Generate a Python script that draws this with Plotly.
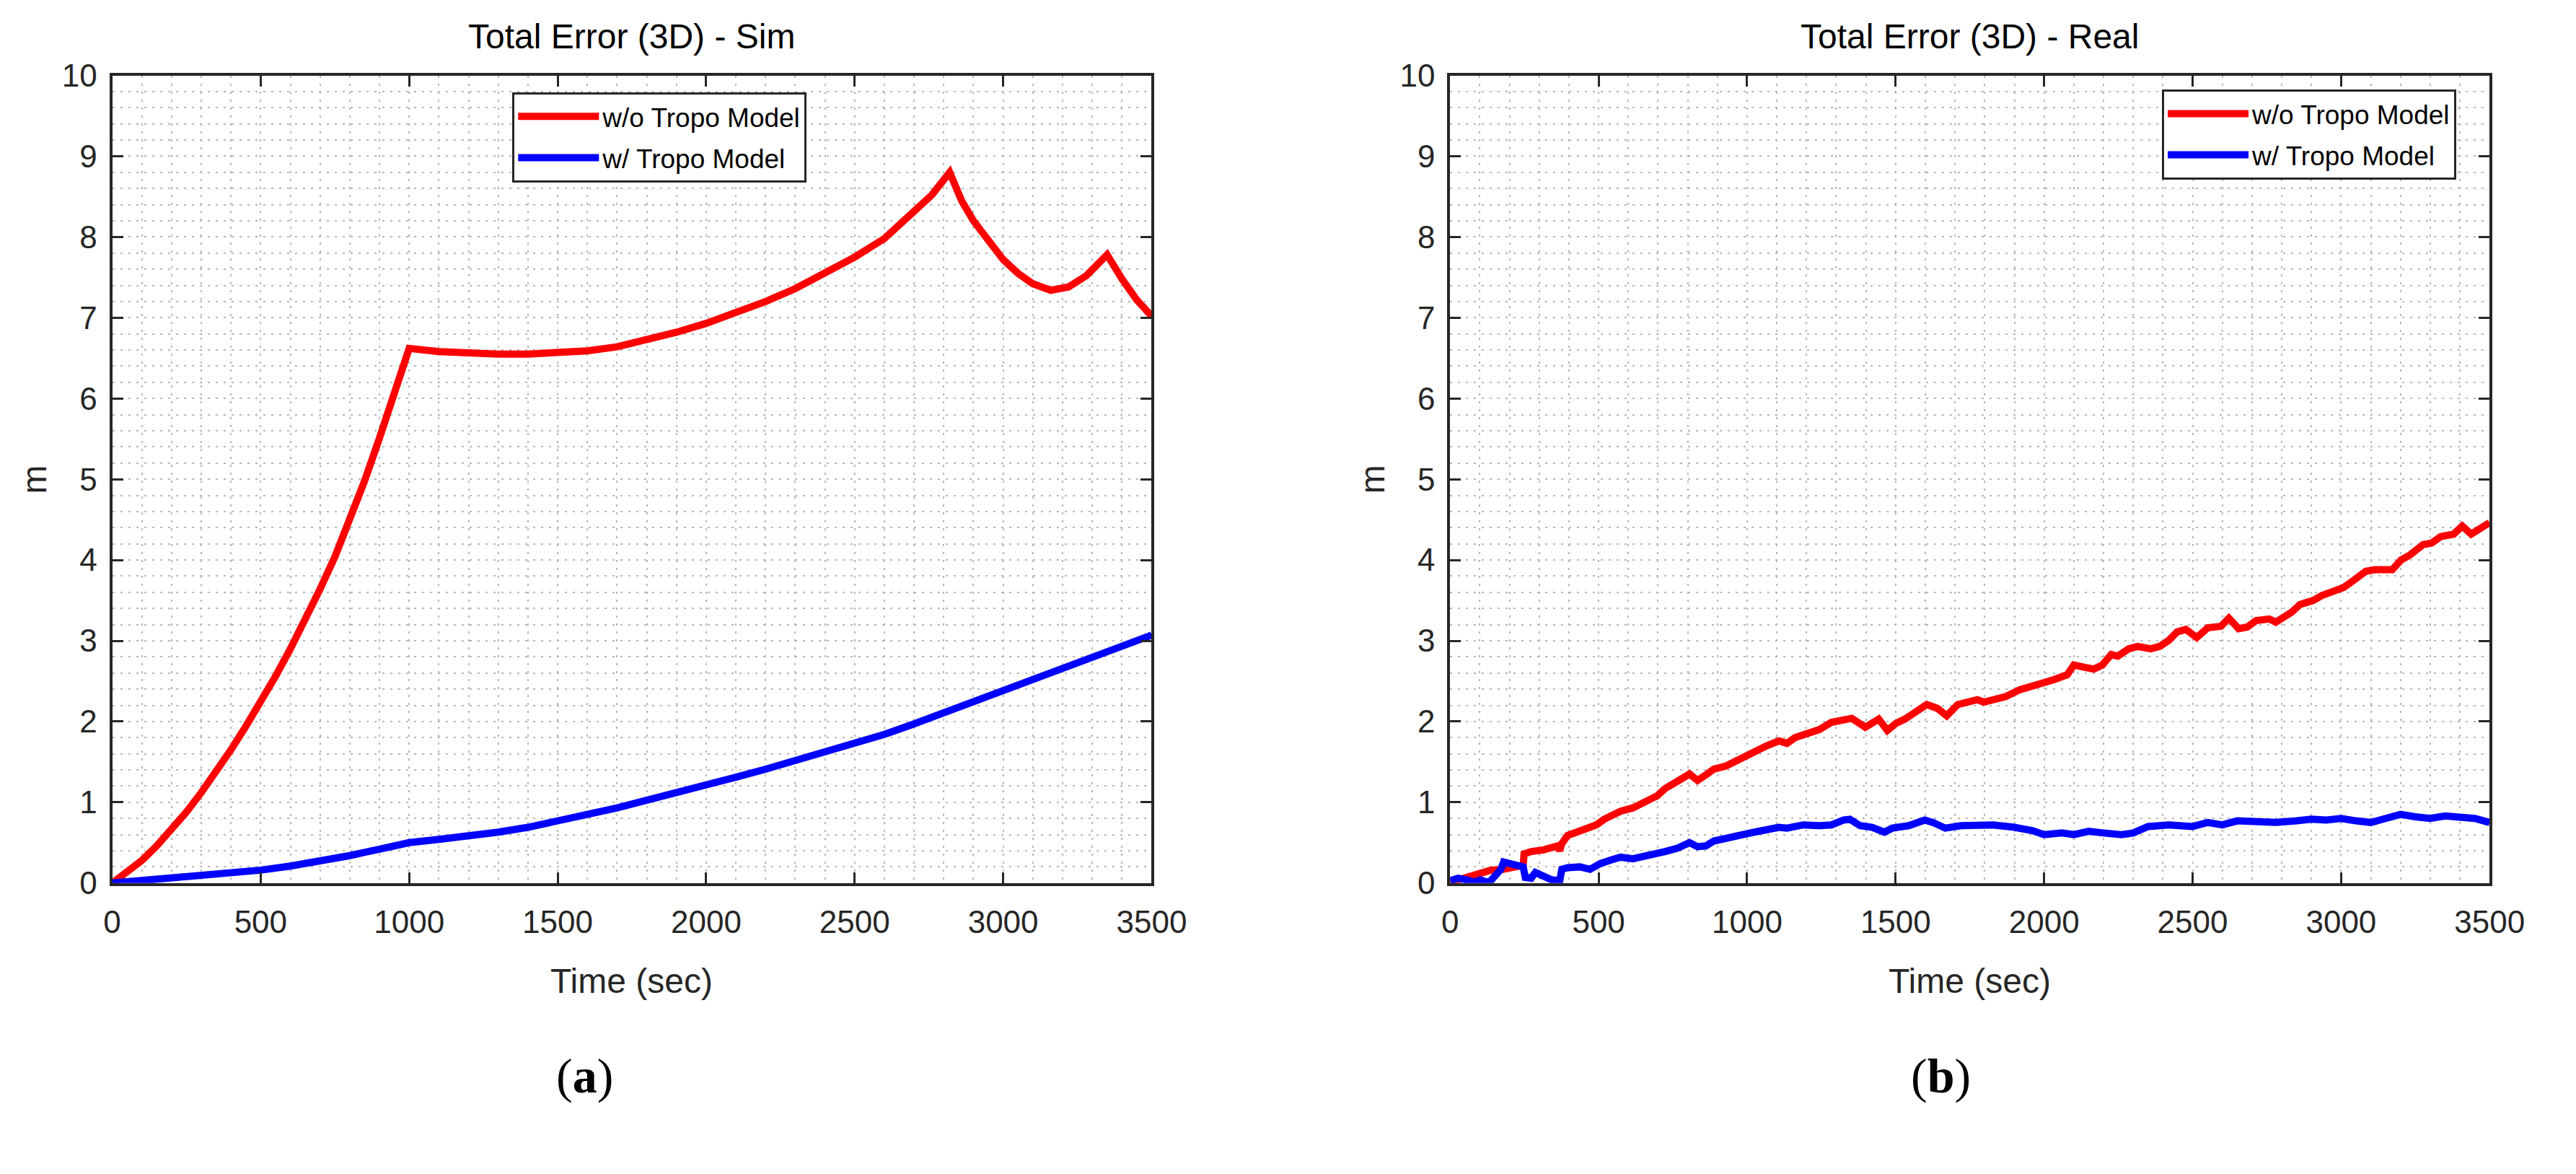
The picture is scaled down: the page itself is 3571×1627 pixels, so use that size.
import plotly.graph_objects as go

# ---------------- data ----------------
sim_t_red = [0, 50, 100, 150, 200, 250, 300, 350, 400, 450, 500, 550, 600, 650, 700, 750, 800,
             850, 900, 950, 1000, 1100, 1200, 1300, 1400, 1500, 1600, 1700, 1800, 1900, 2000,
             2100, 2200, 2300, 2400, 2500, 2600, 2700, 2760, 2820, 2860, 2900, 2950, 3000,
             3050, 3100, 3160, 3220, 3280, 3350, 3400, 3450, 3500]
sim_red = [0.0, 0.13, 0.28, 0.46, 0.66, 0.88, 1.12, 1.38, 1.65, 1.94, 2.24, 2.56, 2.9, 3.26,
           3.64, 4.04, 4.49, 4.98, 5.51, 6.06, 6.62, 6.58, 6.56, 6.55, 6.55, 6.56, 6.59, 6.64,
           6.72, 6.82, 6.93, 7.06, 7.2, 7.36, 7.55, 7.75, 7.98, 8.3, 8.52, 8.8, 8.45, 8.2,
           7.95, 7.72, 7.55, 7.42, 7.34, 7.38, 7.52, 7.78, 7.48, 7.22, 7.02]

sim_t_blue = [0, 100, 200, 300, 400, 500, 600, 700, 800, 900, 1000, 1100, 1200, 1300, 1400,
              1500, 1600, 1700, 1800, 1900, 2000, 2100, 2200, 2300, 2400, 2500, 2600, 2700,
              2800, 2900, 3000, 3100, 3200, 3300, 3400, 3500]
sim_blue = [0.0, 0.03, 0.06, 0.09, 0.12, 0.16, 0.21, 0.27, 0.34, 0.42, 0.5, 0.54, 0.58, 0.63, 0.69,
            0.76, 0.85, 0.93, 1.02, 1.11, 1.21, 1.31, 1.41, 1.52, 1.62, 1.72, 1.84, 1.97,
            2.11, 2.24, 2.38, 2.52, 2.66, 2.8, 2.94, 3.07]

real_t_red = [0, 41, 82, 109, 137, 178, 219, 246, 249, 273, 314, 342, 362, 369, 376, 396, 423,
              464, 492, 519, 546, 574, 615, 642, 669, 697, 724, 751, 779, 806, 833, 861, 888,
              929, 970, 997, 1038, 1066, 1107, 1134, 1161, 1189, 1243, 1284, 1325, 1352, 1398,
              1443, 1472, 1502, 1531, 1561, 1605, 1642, 1672, 1709, 1738, 1775, 1797, 1842,
              1871, 1916, 1945, 1975, 2004, 2034, 2078, 2100, 2137, 2167, 2196, 2226, 2248,
              2285, 2315, 2359, 2389, 2418, 2448, 2477, 2514, 2551, 2596, 2622, 2655, 2684,
              2714, 2758, 2780, 2832, 2862, 2906, 2935, 2980, 3009, 3039, 3083, 3113, 3150,
              3172, 3202, 3231, 3276, 3305, 3335, 3379, 3408, 3438, 3490, 3500]
real_red = [0.01, 0.06, 0.10, 0.14, 0.16, 0.17, 0.19, 0.22, 0.36, 0.39, 0.41, 0.43, 0.46, 0.40,
            0.49, 0.59, 0.62, 0.68, 0.72, 0.79, 0.85, 0.89, 0.93, 0.98, 1.02, 1.08, 1.17, 1.24,
            1.29, 1.35, 1.27, 1.34, 1.41, 1.45, 1.53, 1.57, 1.66, 1.70, 1.76, 1.73, 1.80, 1.83,
            1.90, 1.99, 2.03, 2.04, 1.93, 2.03, 1.89, 1.98, 2.03, 2.11, 2.21, 2.16, 2.07, 2.21,
            2.24, 2.27, 2.24, 2.27, 2.31, 2.39, 2.42, 2.45, 2.47, 2.52, 2.58, 2.70, 2.67, 2.65,
            2.70, 2.83, 2.81, 2.90, 2.93, 2.90, 2.93, 3.00, 3.11, 3.14, 3.04, 3.16, 3.18, 3.28,
            3.15, 3.17, 3.25, 3.27, 3.23, 3.35, 3.45, 3.50, 3.56, 3.61, 3.66, 3.74, 3.86, 3.88,
            3.89, 3.88, 4.00, 4.06, 4.19, 4.21, 4.29, 4.32, 4.42, 4.32, 4.44, 4.46]

real_t_blue = [0, 27, 55, 82, 102, 123, 137, 157, 171, 180, 198, 219, 239, 246, 253, 273, 287,
               314, 342, 369, 376, 396, 437, 471, 505, 546, 574, 615, 642, 697, 724, 765, 792,
               806, 833, 861, 888, 929, 970, 1011, 1052, 1079, 1107, 1134, 1161, 1189, 1243,
               1284, 1325, 1346, 1380, 1421, 1462, 1489, 1544, 1598, 1626, 1667, 1721, 1828,
               1900, 1960, 2000, 2060, 2100, 2150, 2200, 2260, 2300, 2350, 2420, 2500, 2550,
               2600, 2650, 2700, 2780, 2850, 2900, 2950, 3000, 3050, 3100, 3150, 3200, 3250,
               3300, 3350, 3400, 3450, 3500]
real_blue = [0.03, 0.06, 0.04, 0.01, 0.04, 0.01, 0.03, 0.10, 0.17, 0.26, 0.24, 0.22, 0.20, 0.20,
             0.07, 0.06, 0.13, 0.09, 0.04, 0.03, 0.17, 0.19, 0.20, 0.17, 0.24, 0.29, 0.32, 0.30,
             0.32, 0.35, 0.39, 0.43, 0.49, 0.50, 0.45, 0.46, 0.52, 0.56, 0.59, 0.62, 0.65, 0.68,
             0.69, 0.68, 0.71, 0.72, 0.71, 0.72, 0.78, 0.79, 0.71, 0.69, 0.63, 0.68, 0.71, 0.78,
             0.75, 0.68, 0.71, 0.72, 0.69, 0.65, 0.60, 0.62, 0.60, 0.64, 0.62, 0.60, 0.62, 0.70,
             0.72, 0.70, 0.75, 0.72, 0.77, 0.76, 0.75, 0.77, 0.79, 0.78, 0.80, 0.77, 0.75, 0.80,
             0.85, 0.82, 0.80, 0.83, 0.82, 0.80, 0.75]

series_names = ["w/o Tropo Model", "w/ Tropo Model"]
titles = ["Total Error (3D) - Sim", "Total Error (3D) - Real"]
x_label = "Time (sec)"
y_label = "m"
panel_labels = ["(<b>a</b>)", "(<b>b</b>)"]

# ---------------- figure ----------------
W, H = 3571, 1627
FONT = "Liberation Sans, Arial, Helvetica, sans-serif"
AX = "#262626"
GRID = "#b6b6b6"
RED = "#ff0000"
BLUE = "#0000ff"
LW = 10

px = lambda v: v / W
py = lambda v: 1 - v / H

xdom1 = [px(146), px(1612)]
xdom2 = [px(2033), px(3499)]
ydom = [py(1236), py(82)]

fig = go.Figure()
fig.add_trace(go.Scatter(x=sim_t_red, y=sim_red, mode="lines", name=series_names[0],
                         line=dict(color=RED, width=LW), xaxis="x", yaxis="y",
                         legend="legend", legendgroup="a1"))
fig.add_trace(go.Scatter(x=sim_t_blue, y=sim_blue, mode="lines", name=series_names[1],
                         line=dict(color=BLUE, width=LW), xaxis="x", yaxis="y",
                         legend="legend", legendgroup="a2"))
fig.add_trace(go.Scatter(x=real_t_red, y=real_red, mode="lines", name=series_names[0],
                         line=dict(color=RED, width=LW), xaxis="x2", yaxis="y2",
                         legend="legend2", legendgroup="b1"))
fig.add_trace(go.Scatter(x=real_t_blue, y=real_blue, mode="lines", name=series_names[1],
                         line=dict(color=BLUE, width=LW), xaxis="x2", yaxis="y2",
                         legend="legend2", legendgroup="b2"))

def xaxis(dom, anchor):
    return dict(domain=dom, anchor=anchor, range=[0, 3500], dtick=500, tick0=0,
                showline=True, linecolor=AX, linewidth=4, mirror="ticks",
                ticks="inside", ticklen=15, tickwidth=3, tickcolor=AX,
                tickfont=dict(family=FONT, size=44, color=AX), ticklabelstandoff=12,
                showgrid=True, gridcolor=GRID, gridwidth=2, griddash="3px,8px",
                minor=dict(dtick=100, showgrid=True, gridcolor=GRID, gridwidth=2,
                           griddash="3px,8px", ticks=""),
                zeroline=False, fixedrange=True)

def yaxis(anchor):
    return dict(domain=ydom, anchor=anchor, range=[0, 10], dtick=1, tick0=0,
                showline=True, linecolor=AX, linewidth=4, mirror="ticks",
                ticks="inside", ticklen=15, tickwidth=3, tickcolor=AX,
                tickfont=dict(family=FONT, size=44, color=AX), ticklabelstandoff=8,
                showgrid=True, gridcolor=GRID, gridwidth=2, griddash="3px,8px",
                minor=dict(dtick=0.2, showgrid=True, gridcolor=GRID, gridwidth=2,
                           griddash="3px,8px", ticks=""),
                zeroline=False, fixedrange=True)

legend_common = dict(font=dict(family=FONT, size=37, color="#000000"), bgcolor="#ffffff",
                     bordercolor=AX, borderwidth=3, itemwidth=112, traceorder="grouped",
                     yanchor="top", xref="paper", yref="paper", tracegroupgap=6)

annotations = []
for i, xd in enumerate([xdom1, xdom2]):
    cx = (xd[0] + xd[1]) / 2
    annotations.append(dict(text=titles[i], x=cx, y=py(26), xref="paper", yref="paper",
                            showarrow=False, xanchor="center", yanchor="middle",
                            font=dict(family=FONT, size=48, color="#000000")))
    annotations.append(dict(text=x_label, x=cx, y=py(1376), xref="paper", yref="paper",
                            showarrow=False, xanchor="center", yanchor="middle",
                            font=dict(family=FONT, size=48, color=AX)))
    annotations.append(dict(text=y_label, x=xd[0] - px(110), y=(ydom[0] + ydom[1]) / 2,
                            xref="paper", yref="paper", showarrow=False, textangle=-90,
                            xanchor="center", yanchor="middle",
                            font=dict(family=FONT, size=48, color=AX)))
annotations.append(dict(text=panel_labels[0], x=px(812), y=py(1512), xref="paper", yref="paper",
                        showarrow=False, xanchor="center", yanchor="middle",
                        font=dict(family="Liberation Serif, Times New Roman, serif", size=68,
                                  color="#000000")))
annotations.append(dict(text=panel_labels[1], x=px(2725), y=py(1512), xref="paper", yref="paper",
                        showarrow=False, xanchor="center", yanchor="middle",
                        font=dict(family="Liberation Serif, Times New Roman, serif", size=68,
                                  color="#000000")))

fig.update_layout(
    width=W, height=H, autosize=False,
    margin=dict(l=0, r=0, t=0, b=0, pad=0),
    paper_bgcolor="#ffffff", plot_bgcolor="#ffffff",
    showlegend=True,
    xaxis=xaxis(xdom1, "y"), yaxis=yaxis("x"),
    xaxis2=xaxis(xdom2, "y2"), yaxis2=yaxis("x2"),
    legend=dict(x=px(918), xanchor="center", y=py(106), **legend_common),
    legend2=dict(x=px(3452), xanchor="right", y=py(102), **legend_common),
    annotations=annotations,
)

fig.write_html("out.html", config={"displayModeBar": False},
               post_script="document.body.style.margin='0px';")
